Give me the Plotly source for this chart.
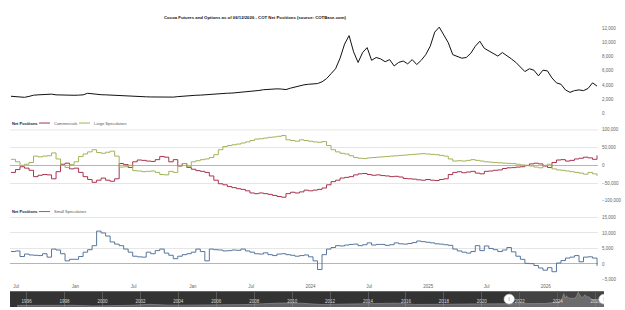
import plotly.graph_objects as go
import pandas as pd

W, H = 625, 310

# ---------------- data (biweekly) ----------------
dates = pd.date_range("2021-06-15", periods=131, freq="14D")

price = [2400, 2380, 2350, 2250, 2380, 2550, 2600, 2620, 2680, 2700,
         2600, 2560, 2520, 2480, 2540, 2560, 2600, 2820, 2720, 2640,
         2620, 2600, 2560, 2540, 2480, 2450, 2420, 2380, 2330, 2300,
         2320, 2300, 2280, 2260, 2240, 2230, 2280, 2350, 2420, 2460,
         2500, 2540, 2560, 2620, 2650, 2700, 2750, 2800, 2830, 2850,
         2900, 2940, 3000, 3080, 3160, 3220, 3330, 3380, 3420, 3450,
         3420, 3350, 3550, 3720, 3880, 4020, 4100, 4170, 4200, 4450,
         4900, 5600, 6300, 7800, 9800, 11000, 8700, 7200, 8600, 9300,
         7500, 7900, 7700, 7300, 7600, 6700, 7200, 7400, 7000, 7600,
         6900, 7500, 8300, 9500, 11500, 12200, 11000, 10000, 8300, 8100,
         7800, 7900, 8500, 9500, 10200, 9200, 8800, 8400, 8100, 8600,
         8200, 7700, 7200, 6500, 5900, 6300, 6100, 5300, 6100, 6000,
         5000, 4300, 4100, 3300, 2950, 3200, 3300, 3200, 3500, 4300,
         3850]

commercials = [-20000, -12000, -4000, -8000, -14000, -32000, -28000, -26000, -27000, -38000,
               -18000, 3000, 6000, -10000, -8000, -20000, -32000, -40000, -48000, -42000,
               -36000, -42000, -45000, -38000, 5000, 2000, -6000, 10000, 15000, 14000,
               12000, 11000, 16000, 25000, 23000, 10000, 16000, -2000, 5000, -6000,
               -11000, -15000, -17000, -20000, -30000, -42000, -52000, -55000, -60000, -63000,
               -66000, -68000, -72000, -78000, -80000, -78000, -80000, -82000, -85000, -88000,
               -90000, -80000, -76000, -78000, -75000, -70000, -72000, -70000, -68000, -64000,
               -55000, -46000, -42000, -36000, -34000, -32000, -27000, -24000, -23000, -26000,
               -28000, -27000, -29000, -30000, -32000, -31000, -33000, -37000, -38000, -39000,
               -41000, -42000, -40000, -42000, -43000, -40000, -38000, -26000, -20000, -18000,
               -21000, -19000, -17000, -22000, -24000, -17000, -16000, -14000, -13000, -9000,
               -7000, -6500, -5000, -4000, 0, 4000, 6000, 4000, -2000, -6000,
               8000, 15000, 16000, 12000, 14000, 18000, 20000, 23000, 21000, 17000,
               28000]

large_specs = [17000, 10000, 0, 3000, 8000, 26000, 24000, 26000, 27000, 35000,
               18000, 0, -6000, 2000, 10000, 25000, 32000, 38000, 44000, 36000,
               34000, 37000, 40000, 26000, -5000, -4000, 0, -15000, -16000, -18000,
               -17000, -16000, -20000, -26000, -27000, -17000, -20000, 0, 5000, -4000,
               10000, 13000, 16000, 18000, 22000, 30000, 44000, 53000, 56000, 58000,
               60000, 63000, 66000, 70000, 74000, 75000, 77000, 79000, 80000, 82000,
               84000, 72000, 70000, 68000, 72000, 70000, 68000, 66000, 65000, 67000,
               56000, 44000, 38000, 34000, 32000, 27000, 22000, 20000, 19000, 21000,
               22000, 23000, 24000, 25000, 26000, 27000, 28000, 29000, 30000, 31000,
               32000, 33000, 32000, 31000, 30000, 28000, 26000, 18000, 12000, 13000,
               12000, 14000, 16000, 14000, 12000, 10000, 9000, 8000, 7000, 6000,
               5500, 5000, 3000, 1000, -1000, -2000, -5000, -7000, 0, 3000,
               -10000, -13000, -14000, -16000, -18000, -20000, -22000, -25000, -20000, -24000,
               -30000]

small_specs = [4000, 4200, 2400, 3200, 2900, 2800, 2700, 3300, 2200, 4800,
               4500, 3300, 1000, 1500, 1500, 2400, 3800, 4600, 5900, 10600,
               10000, 9000, 7100, 6400, 5900, 4800, 3800, 2500, 2300, 2200,
               3800, 3300, 4300, 4800, 3500, 2800, 1700, 2500, 3000, 3300,
               3800, 4800, 4000, 1000, 4800, 4600, 4500, 4200, 4300, 4500,
               4400, 4800, 4200, 3800, 3300, 3200, 3600, 3000, 2700, 3200,
               3300, 3000, 2800, 2500, 2700, 2900, 2300, 1000, -1800, 3000,
               4800, 5300, 5900, 5800, 6100, 6300, 6400, 5900, 6200, 6800,
               6100, 6300, 6300, 6000, 6200, 6800, 6500, 6400, 6600, 6900,
               7400, 7200, 7000, 6800, 6500, 6400, 6200, 6000, 4800, 4200,
               3800, 3500, 4000, 5900, 4300, 5800, 5000, 4600, 4000, 4500,
               5300, 3900, 2500, 1500, 200, 100, -500, -1300, -2000, -1200,
               -2500, 300, 1100, 1900, 2200, 2700, 700, 2200, 2300, 1900,
               -600]

# navigator history (yearly, before the zoomed range)
nav_hist_years = list(range(1995, 2021))
nav_hist_price = [1300, 1400, 1650, 1400, 850, 950, 1400, 2200, 1550, 1550,
                  1550, 1650, 2000, 2700, 3300, 3100, 2100, 2300, 2700, 2900,
                  3200, 2100, 1900, 2300, 2500, 2500]

x_tick_dates = ["2021-07-01", "2022-01-01", "2022-07-01", "2023-01-01", "2023-07-01",
                "2024-01-01", "2024-07-01", "2025-01-01", "2025-07-01", "2026-01-01"]
x_tick_labels = ["Jul", "Jan", "Jul", "Jan", "Jul", "2024", "Jul", "2025", "Jul", "2026"]

nav_tick_years = list(range(1996, 2027, 2))

title_text = "Cocoa Futures and Options as of 06/12/2026 - COT Net Positions (source: COTBase.com)"

# ---------------- style ----------------
FONT = "Liberation Sans, Arial, sans-serif"
C_PRICE = "#111111"
C_COMM = "#a8334f"
C_LARGE = "#a3b25a"
C_SMALL = "#56769e"
GRID = "#e6e6e6"
ZERO = "#b5b5b5"
LABEL = "#666666"
TICKFONT = dict(size=4.5, color=LABEL)


def py(px):
    return 1 - px / H


range_start = pd.Timestamp("2021-06-12")
range_end = pd.Timestamp("2026-06-12")
nav_start = pd.Timestamp("1995-02-15")
xdom = [10 / W, 598 / W]
navdom = [10 / W, 604 / W]

fig = go.Figure()

fig.add_trace(go.Scatter(x=dates, y=price, mode="lines", line=dict(color=C_PRICE, width=1),
                         xaxis="x", yaxis="y", showlegend=False, hoverinfo="skip"))
fig.add_trace(go.Scatter(x=dates, y=commercials, mode="lines", line=dict(color=C_COMM, width=1, shape="hv"),
                         xaxis="x", yaxis="y2", showlegend=False, name="Commercials"))
fig.add_trace(go.Scatter(x=dates, y=large_specs, mode="lines", line=dict(color=C_LARGE, width=1, shape="hv"),
                         xaxis="x", yaxis="y2", showlegend=False, name="Large Speculators"))
fig.add_trace(go.Scatter(x=dates, y=small_specs, mode="lines", line=dict(color=C_SMALL, width=1, shape="hv"),
                         xaxis="x", yaxis="y3", showlegend=False, name="Small Speculators"))

nav_x = [pd.Timestamp(f"{y}-07-01") for y in nav_hist_years] + list(dates)
nav_y = nav_hist_price + price
fig.add_trace(go.Scatter(x=nav_x, y=nav_y, mode="lines", fill="tozeroy",
                         line=dict(color="#9a9a9a", width=0.6), fillcolor="rgba(160,160,160,0.45)",
                         xaxis="x2", yaxis="y4", showlegend=False, hoverinfo="skip"))

fig.update_layout(
    width=W, height=H, margin=dict(l=0, r=0, t=0, b=0),
    paper_bgcolor="white", plot_bgcolor="rgba(0,0,0,0)",
    font=dict(family=FONT, size=5, color=LABEL),
    title=dict(text=f"<b>{title_text}</b>", x=255 / W, y=py(17), xanchor="center", yanchor="middle",
               font=dict(family=FONT, size=4.3, color="#111111")),
    xaxis=dict(domain=xdom, anchor="y3", range=[range_start, range_end], showgrid=False,
               zeroline=False, showline=False, ticks="",
               tickvals=x_tick_dates, ticktext=x_tick_labels, tickfont=TICKFONT,
               ticklabelstandoff=3),
    yaxis=dict(domain=[py(113), py(113 - 13000 / 2000 * 14.33)], anchor="x", side="right",
               range=[0, 13000], showgrid=False, zeroline=False, ticks="",
               tickmode="linear", tick0=0, dtick=2000, tickformat=",d",
               tickfont=TICKFONT, ticklabelstandoff=3),
    yaxis2=dict(domain=[py(202), py(130)], anchor="x", side="right", range=[-100000, 99999],
                showgrid=True, gridcolor=GRID, gridwidth=1, zeroline=True, zerolinecolor=ZERO,
                zerolinewidth=1, ticks="", tickmode="linear", tick0=-100000, dtick=50000,
                tickformat=",d", tickfont=TICKFONT, ticklabelstandoff=3),
    yaxis3=dict(domain=[py(282), py(219)], anchor="x", side="right", range=[-5000, 14999],
                showgrid=True, gridcolor=GRID, gridwidth=1, zeroline=True, zerolinecolor=ZERO,
                zerolinewidth=1, ticks="", tickmode="linear", tick0=-5000, dtick=5000,
                tickformat=",d", tickfont=TICKFONT, ticklabelstandoff=3),
    xaxis2=dict(domain=navdom, anchor="y4", range=[nav_start, range_end], showgrid=True,
                gridcolor="#5a5a5a", gridwidth=1, zeroline=False, showline=False, ticks="",
                tickvals=[f"{y}-01-01" for y in nav_tick_years], ticktext=[str(y) for y in nav_tick_years],
                ticklabelposition="inside", tickfont=dict(size=4.5, color="#d8d8d8")),
    yaxis4=dict(domain=[0, py(294)], anchor="x2", range=[0, 13000], showgrid=False, zeroline=False,
                showticklabels=False, ticks=""),
)

shapes = []
# top gridlines of the two position panes (100,000 and 15,000 have no label)
for ax in ("y2", "y3"):
    shapes.append(dict(type="line", xref="x domain", yref=f"{ax} domain", x0=0, x1=1, y0=1, y1=1,
                       line=dict(color=GRID, width=1), layer="below"))
# navigator background
shapes.append(dict(type="rect", xref="x2 domain", yref="y4 domain", x0=0, x1=1, y0=0, y1=1,
                   fillcolor="#333333", line=dict(width=0), layer="below"))
# selected window in navigator
shapes.append(dict(type="rect", xref="x2", yref="y4 domain", x0=range_start, x1=range_end, y0=0, y1=1,
                   fillcolor="rgba(255,255,255,0.08)", line=dict(width=0), layer="below"))
# handles
half = pd.Timedelta(days=100)
for t in (range_start, range_end):
    shapes.append(dict(type="circle", xref="x2", yref="paper", x0=t - half, x1=t + half,
                       y0=py(302) - 5 / H, y1=py(302) + 5 / H,
                       fillcolor="white", line=dict(color="#cccccc", width=0.6), layer="above"))
    shapes.append(dict(type="line", xref="x2", yref="paper", x0=t, x1=t,
                       y0=py(302) - 2 / H, y1=py(302) + 2 / H,
                       line=dict(color="#999999", width=0.6), layer="above"))

annotations = []


def legend_row(y_px, items):
    annotations.append(dict(text="<b>Net Positions</b>", xref="paper", yref="paper", x=10 / W, y=py(y_px),
                            xanchor="left", yanchor="middle", showarrow=False,
                            font=dict(family=FONT, size=4, color="#222222")))
    x = 39
    for name, color, w in items:
        shapes.append(dict(type="line", xref="paper", yref="paper", x0=x / W, x1=(x + 11) / W,
                           y0=py(y_px), y1=py(y_px), line=dict(color=color, width=1)))
        annotations.append(dict(text=name, xref="paper", yref="paper", x=(x + 13) / W, y=py(y_px),
                                xanchor="left", yanchor="middle", showarrow=False,
                                font=dict(family=FONT, size=4, color="#555555")))
        x += w


legend_row(123, [("Commercials", C_COMM, 40), ("Large Speculators", C_LARGE, 50)])
legend_row(213, [("Small Speculators", C_SMALL, 50)])

fig.update_layout(shapes=shapes, annotations=annotations)

fig.write_html("out.html")
